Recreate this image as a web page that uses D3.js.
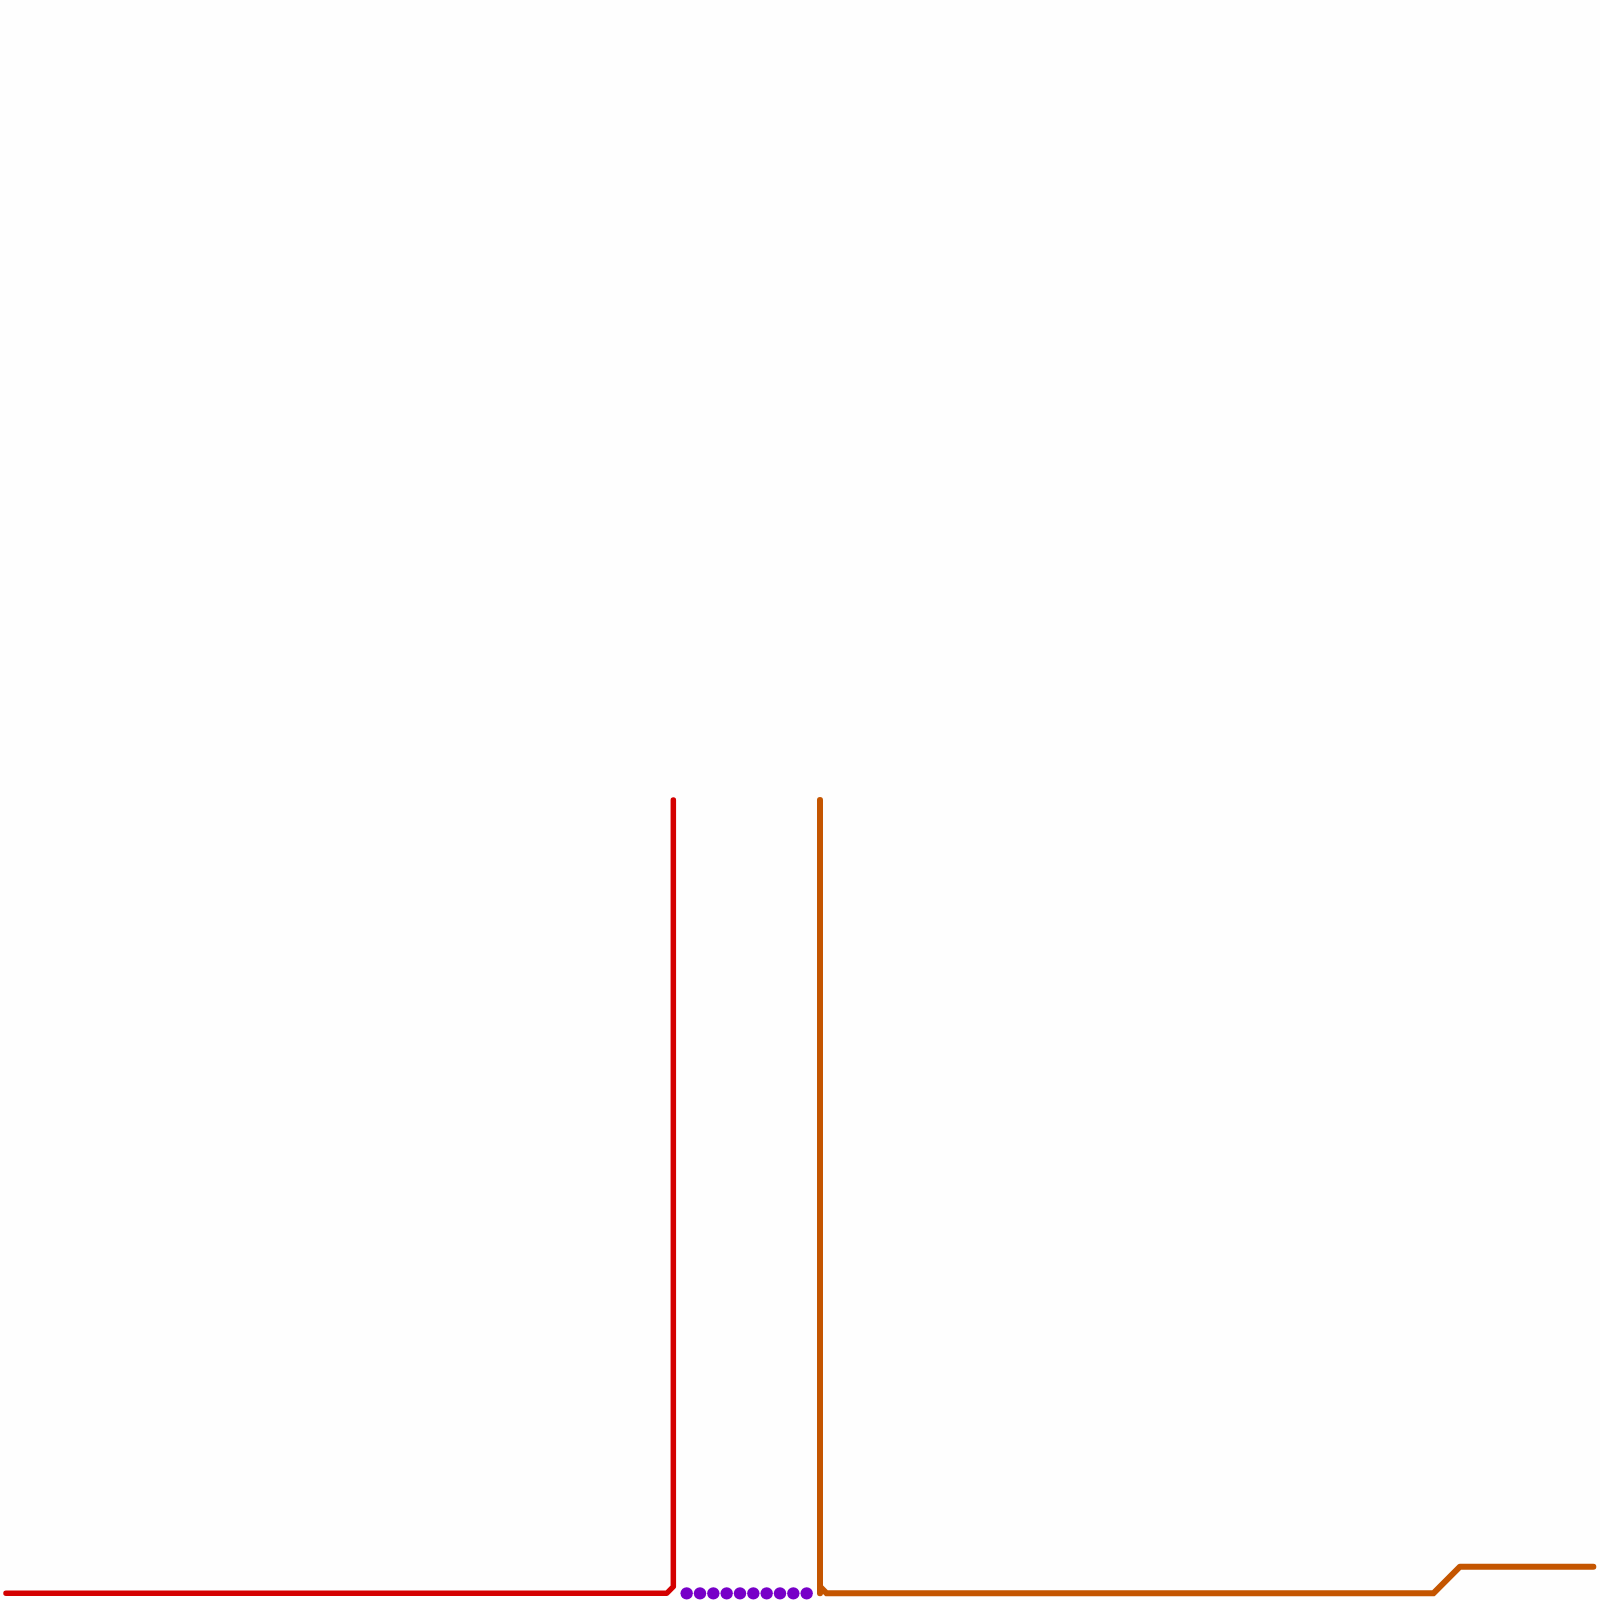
<!DOCTYPE html>
<html><head><meta charset="utf-8">
<script src="https://cdn.jsdelivr.net/npm/d3@7"></script>
<style>html,body{margin:0;padding:0;background:#fefefe;}</style>
</head><body>
<script>
// Grid-unit data (1 unit = 1/120 of the frame)
const redLine = [[0.45,119.5],[50,119.5],[50.5,119],[50.5,60]];
const orangeLine = [[61.5,60],[61.5,119],[62,119.5],[107.5,119.5],[109.5,117.5],[119.5,117.5]];
const orangeStub = [[61.5,119],[61.5,119.5]];
const purpleDotsX = [51.5,52.5,53.5,54.5,55.5,56.5,57.5,58.5,59.5,60.5];
const purpleDotsY = 119.5;

const W = 1600, H = 1600;
const x = d3.scaleLinear().domain([0,120]).range([0,W]);
const y = d3.scaleLinear().domain([0,120]).range([0,H]);

const svg = d3.select("body").append("svg").attr("width",W).attr("height",H)
  .style("display","block").style("background","#fefefe");

const line = d3.line().x(d=>x(d[0])).y(d=>y(d[1]));

svg.append("path").datum(redLine).attr("d",line)
  .attr("fill","none").attr("stroke","#d40000").attr("stroke-width",5.5)
  .attr("stroke-linecap","round").attr("stroke-linejoin","round");

svg.append("path").datum(orangeLine).attr("d",line)
  .attr("fill","none").attr("stroke","#c45500").attr("stroke-width",6)
  .attr("stroke-linecap","round").attr("stroke-linejoin","round");

svg.append("path").datum(orangeStub).attr("d",line)
  .attr("fill","none").attr("stroke","#c45500").attr("stroke-width",6)
  .attr("stroke-linecap","round");

svg.selectAll("circle.p").data(purpleDotsX).enter().append("circle")
  .attr("class","p").attr("cx",d=>x(d)).attr("cy",y(purpleDotsY)).attr("r",6.2)
  .attr("fill","#7700c8");
</script>
</body></html>
